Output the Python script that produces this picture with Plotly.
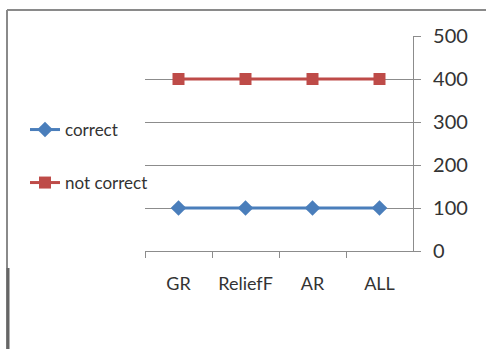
import plotly.graph_objects as go

# Feature-selection methods on the category axis
methods = ["GR", "ReliefF", "AR", "ALL"]
# Number of instances per outcome
correct = [100, 100, 100, 100]
not_correct = [400, 400, 400, 400]
y_ticks = [0, 100, 200, 300, 400, 500]

W, H = 486, 349

def px_x(x):
    return x / W

def px_y(y):
    return 1 - y / H

blue = "#4a7ebb"
red = "#be4b48"
font_family = "Lato, Open Sans, sans-serif"

fig = go.Figure()
fig.add_trace(go.Scatter(
    x=methods, y=correct, name="correct", mode="lines+markers",
    line=dict(color=blue, width=3),
    marker=dict(symbol="diamond", size=12, color=blue),
    legend="legend",
))
fig.add_trace(go.Scatter(
    x=methods, y=not_correct, name="not correct", mode="lines+markers",
    line=dict(color=red, width=3),
    marker=dict(symbol="square", size=12, color=red),
    legend="legend2",
))

legend_style = dict(
    font=dict(family=font_family, size=17, color="#333333"),
    bgcolor="rgba(0,0,0,0)", xanchor="left", yanchor="middle",
)

fig.update_layout(
    width=W, height=H,
    margin=dict(l=0, r=0, t=0, b=0, autoexpand=False),
    paper_bgcolor="white", plot_bgcolor="white",
    xaxis=dict(
        domain=[px_x(145), px_x(413)],
        type="category", range=[-0.5, 3.5],
        showline=True, linecolor="#8c8c8c", linewidth=1.2,
        ticks="outside", tickson="boundaries", ticklen=6, tickcolor="#8c8c8c",
        showgrid=False, zeroline=False, automargin=False,
        tickangle=0, ticklabelstandoff=16,
        tickfont=dict(family=font_family, size=18, color="#333333"),
        anchor="y",
    ),
    yaxis=dict(
        domain=[px_y(251), px_y(36)],
        range=[0, 500], tickvals=y_ticks, side="right",
        showline=True, linecolor="#8c8c8c", linewidth=1.2,
        ticks="outside", ticklen=7, tickcolor="#8c8c8c",
        showgrid=True, gridcolor="#8c8c8c", gridwidth=1,
        zeroline=False, ticklabelstandoff=8, automargin=False,
        tickfont=dict(family=font_family, size=20, color="#333333"),
        anchor="x",
    ),
    legend=dict(x=px_x(25), y=px_y(130), **legend_style),
    legend2=dict(x=px_x(25), y=px_y(183), **legend_style),
    showlegend=True,
)

# Outer chart frame
fig.add_shape(type="line", xref="paper", yref="paper",
              x0=px_x(7), x1=1.0, y0=px_y(10), y1=px_y(10),
              line=dict(color="#8a8a8a", width=2))
fig.add_shape(type="line", xref="paper", yref="paper",
              x0=px_x(7), x1=px_x(7), y0=px_y(10), y1=0,
              line=dict(color="#8a8a8a", width=2))
fig.add_shape(type="line", xref="paper", yref="paper",
              x0=px_x(8), x1=px_x(8), y0=px_y(268), y1=0,
              line=dict(color="#666666", width=3))

fig.write_html("out.html")
